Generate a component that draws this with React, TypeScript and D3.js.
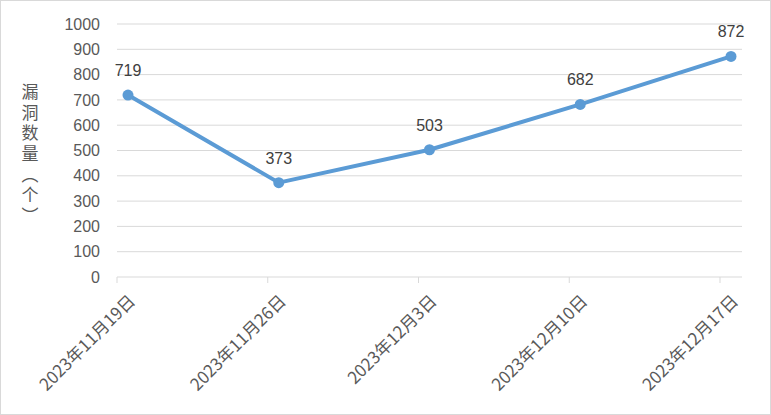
import React from "react";
import * as d3 from "d3";

const categories = ["2023年11月19日", "2023年11月26日", "2023年12月3日", "2023年12月10日", "2023年12月17日"];
const values = [719, 373, 503, 682, 872];
const yTicks = [0, 100, 200, 300, 400, 500, 600, 700, 800, 900, 1000];
const yTitle = "漏洞数量（个）";

const W = 771, H = 415;
const left = 117, right = 742, top = 24, bottom = 277;
const pad = 11;

export default function App() {
  const x = d3.scalePoint<string>().domain(categories).range([left + pad, right - pad]);
  const y = d3.scaleLinear().domain([0, 1000]).range([bottom, top]);
  const line = d3.line<number>().x((_, i) => x(categories[i])!).y(d => y(d));
  const font = "'Liberation Sans', Arial, sans-serif";
  const cjk = "'Noto Sans CJK SC', sans-serif";
  return (
    <svg width={W} height={H} style={{ position: "absolute", left: 0, top: 0, background: "#fff" }}>
      <rect x={0.5} y={0.5} width={W - 1} height={H - 1} fill="#fff" stroke="#d9d9d9" />
      {yTicks.map(t => (
        <g key={t}>
          <line x1={left} x2={right} y1={y(t)} y2={y(t)} stroke="#d9d9d9" strokeWidth={1} />
          <text x={100} y={y(t)} dy="0.35em" textAnchor="end" fontSize={16} fill="#595959" fontFamily={font}>{t}</text>
        </g>
      ))}
      {categories.map(c => {
        const tx = x(c)! - pad;
        return (
          <g key={c}>
            <line x1={tx} x2={tx} y1={bottom} y2={bottom + 6} stroke="#d9d9d9" />
            <text transform={`translate(${tx + 15},${bottom + 21}) rotate(-45)`} textAnchor="end" dy="0.35em" fontSize={17} fill="#595959" fontFamily={cjk}>{c}</text>
          </g>
        );
      })}
      <path d={line(values)!} fill="none" stroke="#5B9BD5" strokeWidth={4} strokeLinejoin="round" />
      {values.map((v, i) => (
        <g key={i}>
          <circle cx={x(categories[i])!} cy={y(v)} r={5.5} fill="#5B9BD5" />
          <text x={x(categories[i])!} y={y(v) - 19} textAnchor="middle" fontSize={16} fill="#404040" fontFamily={font}>{v}</text>
        </g>
      ))}
      <text x={30} y={83} fontSize={17} fill="#595959" fontFamily={cjk} letterSpacing={3.7}
        style={{ writingMode: "vertical-rl" }}>{yTitle}</text>
    </svg>
  );
}
